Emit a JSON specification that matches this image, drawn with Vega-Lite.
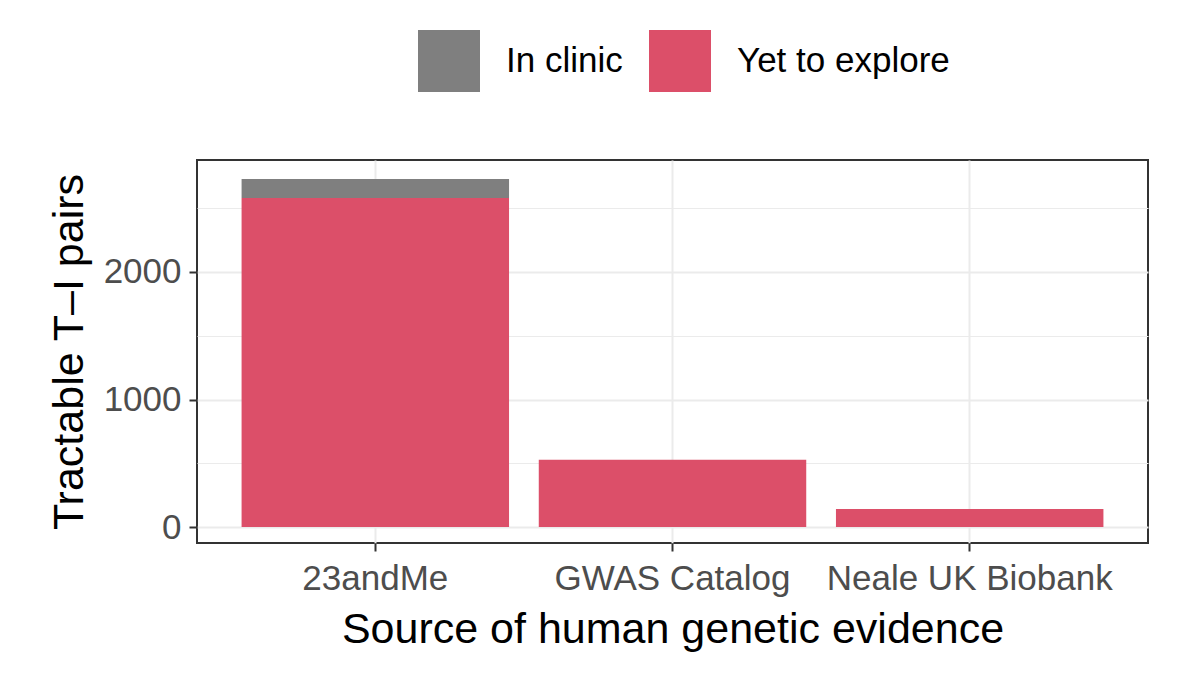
{
  "$schema": "https://vega.github.io/schema/vega-lite/v6.json",
  "width": 951,
  "height": 383,
  "autosize": "none",
  "padding": {"left": 197, "top": 160, "right": 52, "bottom": 135},
  "background": "white",
  "data": {
    "values": [
      {"source": "23andMe", "status": "In clinic", "pairs": 150},
      {"source": "23andMe", "status": "Yet to explore", "pairs": 2580},
      {"source": "GWAS Catalog", "status": "In clinic", "pairs": 0},
      {"source": "GWAS Catalog", "status": "Yet to explore", "pairs": 527},
      {"source": "Neale UK Biobank", "status": "In clinic", "pairs": 0},
      {"source": "Neale UK Biobank", "status": "Yet to explore", "pairs": 142}
    ]
  },
  "mark": {"type": "bar", "opacity": 1},
  "encoding": {
    "x": {
      "field": "source",
      "type": "nominal",
      "title": "Source of human genetic evidence",
      "scale": {"paddingInner": 0.1, "paddingOuter": 0.15},
      "axis": {
        "labelAngle": 0,
        "bandPosition": 0.5,
        "labelFontSize": 35,
        "labelColor": "#4D4D4D",
        "labelPadding": 10,
        "labelLimit": 400,
        "titleFontSize": 43,
        "titleFontWeight": "normal",
        "titleColor": "black",
        "titlePadding": 12,
        "tickColor": "#333333",
        "tickWidth": 2,
        "tickSize": 8,
        "domain": false,
        "grid": true,
        "gridColor": "#EBEBEB",
        "gridWidth": 2
      }
    },
    "y": {
      "field": "pairs",
      "type": "quantitative",
      "stack": "zero",
      "title": "Tractable T–I pairs",
      "scale": {"domain": [-125, 2878], "nice": false, "zero": false},
      "axis": {
        "values": [0, 500, 1000, 1500, 2000, 2500],
        "format": "d",
        "labelExpr": "datum.value % 1000 === 0 ? datum.label : ''",
        "labelFontSize": 35,
        "labelColor": "#4D4D4D",
        "labelPadding": 8,
        "titleFontSize": 43,
        "titleFontWeight": "normal",
        "titleColor": "black",
        "titlePadding": 12,
        "tickColor": "#333333",
        "tickWidth": 2,
        "tickSize": 8,
        "tickOpacity": {"condition": {"test": "datum.value % 1000 === 0", "value": 1}, "value": 0},
        "domain": false,
        "grid": true,
        "gridColor": "#EBEBEB",
        "gridWidth": {"condition": {"test": "datum.value % 1000 === 0", "value": 2}, "value": 1.2}
      }
    },
    "color": {
      "field": "status",
      "type": "nominal",
      "title": null,
      "scale": {
        "domain": ["In clinic", "Yet to explore"],
        "range": ["#7F7F7F", "#DC4F69"]
      },
      "legend": {
        "orient": "none",
        "direction": "horizontal",
        "legendX": 221,
        "legendY": -130,
        "symbolType": "square",
        "symbolSize": 3844,
        "symbolStrokeWidth": 0,
        "symbolOpacity": 1,
        "labelFontSize": 35,
        "labelColor": "black",
        "labelLimit": 400,
        "labelOffset": 26,
        "columnPadding": 26
      }
    },
    "order": {"field": "status", "sort": "descending"}
  },
  "config": {
    "font": "Liberation Sans",
    "view": {"stroke": "#333333", "strokeWidth": 2}
  }
}
